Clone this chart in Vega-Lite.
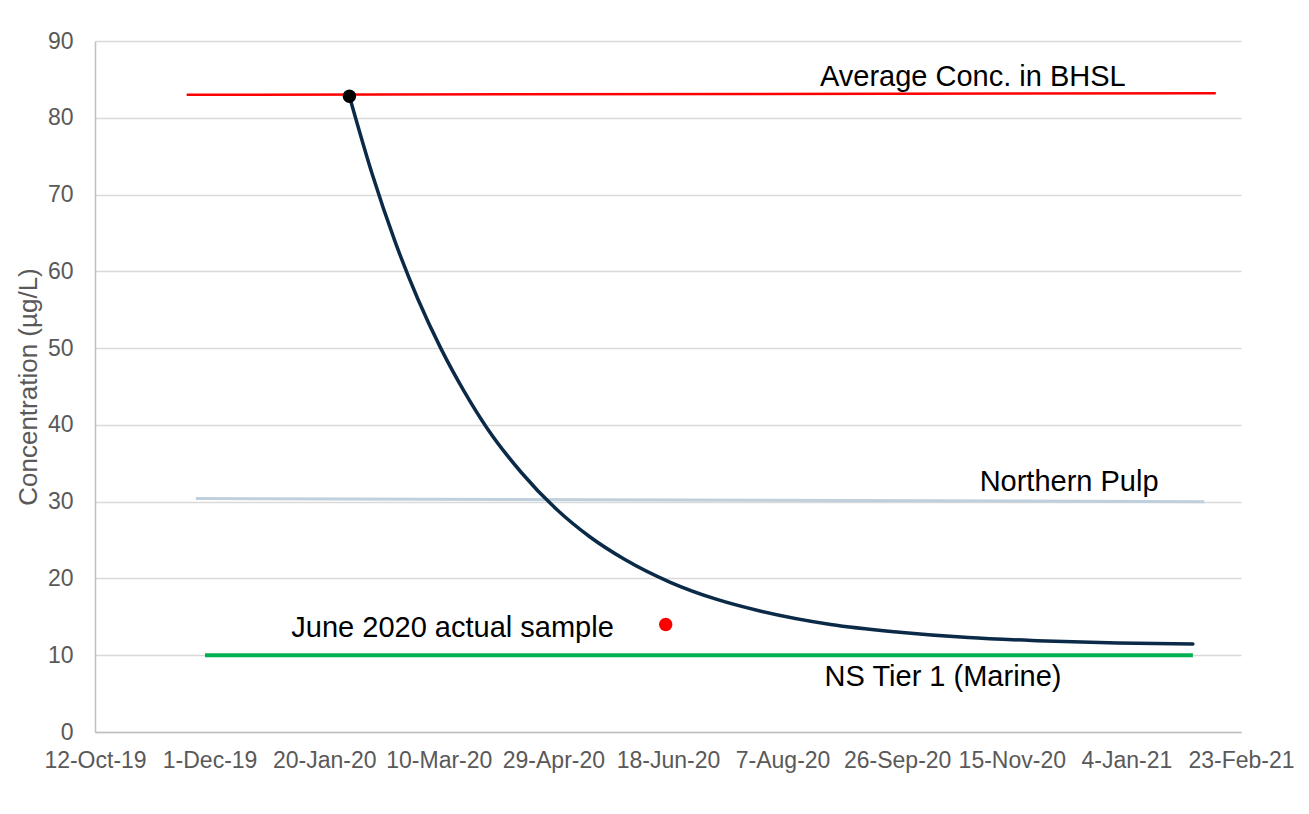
{
  "$schema": "https://vega.github.io/schema/vega-lite/v6.json",
  "width": 1146,
  "height": 691,
  "autosize": {"type": "none"},
  "padding": {"left": 95, "top": 41, "right": 68, "bottom": 82},
  "background": "white",
  "config": {"view": {"stroke": null}, "font": "Liberation Sans"},
  "datasets": {
    "refs": [
      {"series": "avg", "date": "2019-11-21", "value": 83.0},
      {"series": "avg", "date": "2021-02-12", "value": 83.2},
      {"series": "pulp", "date": "2019-11-25", "value": 30.4},
      {"series": "pulp", "date": "2021-02-07", "value": 30.0},
      {"series": "tier", "date": "2019-11-29", "value": 10.0},
      {"series": "tier", "date": "2021-02-02", "value": 10.0}
    ],
    "decay": [
      {"date": "2020-01-31", "value": 82.8},
      {"date": "2020-02-10", "value": 72.6},
      {"date": "2020-02-20", "value": 63.8},
      {"date": "2020-03-01", "value": 56.3},
      {"date": "2020-03-11", "value": 49.9},
      {"date": "2020-03-21", "value": 44.4},
      {"date": "2020-03-31", "value": 39.6},
      {"date": "2020-04-15", "value": 33.8},
      {"date": "2020-04-30", "value": 29.1},
      {"date": "2020-05-15", "value": 25.4},
      {"date": "2020-05-30", "value": 22.5},
      {"date": "2020-06-19", "value": 19.5},
      {"date": "2020-07-09", "value": 17.3},
      {"date": "2020-07-29", "value": 15.7},
      {"date": "2020-08-28", "value": 14.0},
      {"date": "2020-09-27", "value": 13.0},
      {"date": "2020-10-27", "value": 12.3},
      {"date": "2020-11-26", "value": 11.9},
      {"date": "2020-12-31", "value": 11.6},
      {"date": "2021-02-02", "value": 11.45}
    ],
    "points": [
      {"kind": "start", "date": "2020-01-31", "value": 82.8},
      {"kind": "sample", "date": "2020-06-17", "value": 14.0}
    ],
    "labels": [
      {"text": "Average Conc. in BHSL", "date": "2020-10-29", "value": 85.3},
      {"text": "Northern Pulp", "date": "2020-12-10", "value": 32.5},
      {"text": "June 2020 actual sample", "date": "2020-03-16", "value": 13.6},
      {"text": "NS Tier 1 (Marine)", "date": "2020-10-16", "value": 7.2}
    ]
  },
  "encoding": {
    "x": {
      "field": "date",
      "type": "temporal",
      "scale": {
        "type": "utc",
        "domain": [
          {"year": 2019, "month": 10, "date": 12, "utc": true},
          {"year": 2021, "month": 2, "date": 23, "utc": true}
        ]
      },
      "axis": {
        "title": null,
        "labelExpr": "utcFormat(datum.value, '%-d-%b-%y')",
        "values": [
          {"year": 2019, "month": 10, "date": 12, "utc": true},
          {"year": 2019, "month": 12, "date": 1, "utc": true},
          {"year": 2020, "month": 1, "date": 20, "utc": true},
          {"year": 2020, "month": 3, "date": 10, "utc": true},
          {"year": 2020, "month": 4, "date": 29, "utc": true},
          {"year": 2020, "month": 6, "date": 18, "utc": true},
          {"year": 2020, "month": 8, "date": 7, "utc": true},
          {"year": 2020, "month": 9, "date": 26, "utc": true},
          {"year": 2020, "month": 11, "date": 15, "utc": true},
          {"year": 2021, "month": 1, "date": 4, "utc": true},
          {"year": 2021, "month": 2, "date": 23, "utc": true}
        ],
        "grid": false,
        "ticks": false,
        "tickSize": 0,
        "domainColor": "#BFBFBF",
        "domainWidth": 1.5,
        "labelColor": "#595959",
        "labelFontSize": 23,
        "labelPadding": 17,
        "labelOverlap": false,
        "labelFlush": false
      }
    },
    "y": {
      "field": "value",
      "type": "quantitative",
      "scale": {"domain": [0, 90], "nice": false, "zero": true},
      "axis": {
        "title": "Concentration (µg/L)",
        "titleFontSize": 26,
        "titleFontWeight": "normal",
        "titleColor": "#595959",
        "titlePadding": 6,
        "values": [0, 10, 20, 30, 40, 50, 60, 70, 80, 90],
        "grid": true,
        "gridColor": "#D9D9D9",
        "gridWidth": 1.5,
        "ticks": false,
        "tickSize": 0,
        "domainColor": "#BFBFBF",
        "domainWidth": 1.5,
        "labelColor": "#595959",
        "labelFontSize": 23,
        "labelPadding": 22
      }
    }
  },
  "layer": [
    {
      "data": {"name": "refs"},
      "transform": [{"filter": "datum.series == 'pulp'"}],
      "mark": {"type": "line", "color": "#BFCFDB", "strokeWidth": 3}
    },
    {
      "data": {"name": "refs"},
      "transform": [{"filter": "datum.series == 'tier'"}],
      "mark": {"type": "line", "color": "#00B050", "strokeWidth": 4}
    },
    {
      "data": {"name": "refs"},
      "transform": [{"filter": "datum.series == 'avg'"}],
      "mark": {"type": "line", "color": "#FF0000", "strokeWidth": 2.5}
    },
    {
      "data": {"name": "decay"},
      "mark": {"type": "line", "color": "#0B2A48", "strokeWidth": 3.5, "interpolate": "monotone", "strokeCap": "round"}
    },
    {
      "data": {"name": "points"},
      "mark": {"type": "point", "filled": true, "opacity": 1, "size": 180},
      "encoding": {
        "color": {
          "field": "kind",
          "type": "nominal",
          "scale": {"domain": ["start", "sample"], "range": ["#000000", "#FF0000"]},
          "legend": null
        }
      }
    },
    {
      "data": {"name": "labels"},
      "mark": {"type": "text", "fontSize": 29, "color": "#000000", "align": "center", "baseline": "middle"},
      "encoding": {"text": {"field": "text"}}
    }
  ]
}
